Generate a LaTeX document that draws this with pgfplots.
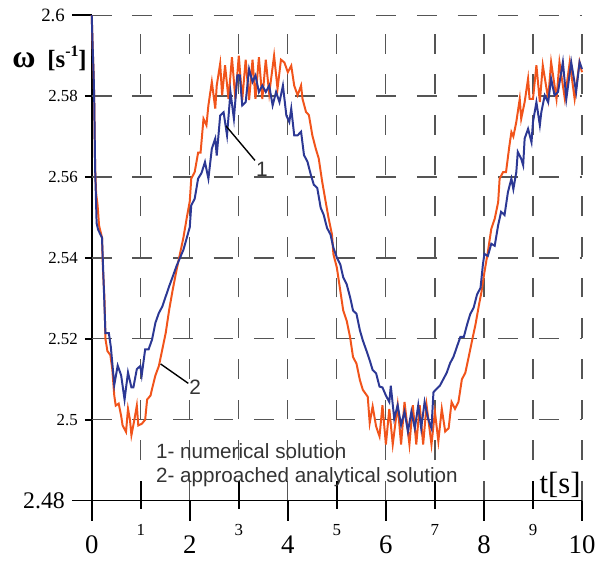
\documentclass[border=0pt]{standalone}
\usepackage{fontspec}
\setmainfont{Liberation Serif}
\setsansfont{Liberation Sans}
\usepackage{pgfplots}
\pgfplotsset{compat=1.18}
\definecolor{cred}{RGB}{241,84,27}
\definecolor{cblue}{RGB}{44,56,148}
\definecolor{cgrid}{RGB}{85,85,85}
\definecolor{ctext}{RGB}{51,51,51}

% series 2: approached analytical solution
\pgfplotstableread{
t w
0 2.600
0.02 2.592
0.04 2.585
0.05 2.580
0.07 2.562
0.09 2.556
0.12 2.553
0.15 2.548
0.19 2.546
0.21 2.545
0.23 2.537
0.26 2.530
0.28 2.520
0.32 2.517
0.38 2.516
0.42 2.5125
0.46 2.506
0.49 2.5035
0.55 2.504
0.60 2.501
0.63 2.4986
0.70 2.497
0.74 2.5027
0.78 2.500
0.81 2.4962
0.87 2.500
0.92 2.5035
0.95 2.4986
1.02 2.499
1.09 2.500
1.13 2.505
1.20 2.506
1.23 2.5076
1.30 2.511
1.37 2.5133
1.44 2.5174
1.51 2.5215
1.58 2.5272
1.65 2.532
1.73 2.537
1.80 2.541
1.87 2.545
1.94 2.550
2.00 2.554
2.03 2.5596
2.10 2.5612
2.17 2.566
2.22 2.566
2.28 2.5744
2.34 2.5728
2.38 2.5777
2.45 2.5835
2.52 2.5769
2.55 2.5826
2.62 2.588
2.66 2.5802
2.72 2.5876
2.79 2.5793
2.86 2.5896
2.93 2.5793
3.00 2.590
3.07 2.579
3.14 2.589
3.21 2.579
3.28 2.589
3.34 2.5793
3.41 2.5896
3.48 2.5793
3.55 2.589
3.62 2.5806
3.72 2.590
3.79 2.5818
3.86 2.589
3.93 2.5883
4.00 2.5859
4.07 2.5875
4.13 2.5826
4.20 2.5802
4.27 2.5826
4.30 2.5793
4.37 2.5761
4.43 2.5753
4.50 2.5703
4.57 2.567
4.63 2.5646
4.70 2.5589
4.77 2.554
4.83 2.5499
4.90 2.5458
4.93 2.5409
5.00 2.5376
5.07 2.5319
5.13 2.527
5.20 2.5245
5.27 2.5204
5.33 2.5155
5.40 2.5139
5.47 2.5098
5.53 2.5074
5.63 2.5057
5.67 2.4992
5.73 2.5033
5.80 2.4984
5.87 2.4959
5.93 2.5036
6.00 2.4939
6.07 2.5027
6.14 2.4939
6.24 2.5036
6.31 2.4939
6.38 2.5044
6.48 2.4939
6.55 2.5036
6.62 2.4939
6.69 2.5036
6.76 2.4939
6.83 2.5036
6.93 2.4939
7.00 2.502
7.07 2.4947
7.14 2.5027
7.21 2.4971
7.28 2.4979
7.34 2.5044
7.41 2.5027
7.48 2.5044
7.55 2.510
7.62 2.5116
7.69 2.5156
7.76 2.5197
7.83 2.5237
7.90 2.5285
7.95 2.5316
8.01 2.5365
8.08 2.5415
8.15 2.5472
8.22 2.5497
8.29 2.5538
8.32 2.5596
8.39 2.5612
8.45 2.5612
8.52 2.5678
8.56 2.5711
8.60 2.570
8.66 2.5736
8.73 2.5793
8.76 2.5744
8.83 2.5785
8.90 2.5843
8.93 2.5793
9.00 2.5793
9.07 2.5876
9.14 2.5785
9.20 2.5876
9.31 2.5793
9.37 2.5884
9.48 2.5793
9.54 2.5884
9.65 2.5793
9.75 2.5884
9.85 2.5793
9.95 2.5884
10.0 2.5859
}\analytic

% series 1: numerical solution
\pgfplotstableread{
t w
0 2.600
0.02 2.592
0.04 2.585
0.05 2.580
0.07 2.562
0.10 2.5486
0.13 2.547
0.17 2.546
0.21 2.545
0.24 2.535
0.28 2.5214
0.35 2.5214
0.39 2.518
0.46 2.5086
0.53 2.5134
0.60 2.511
0.67 2.505
0.74 2.5117
0.81 2.508
0.85 2.508
0.92 2.5125
0.99 2.5133
1.02 2.511
1.09 2.5174
1.16 2.5174
1.23 2.5198
1.30 2.524
1.37 2.5264
1.44 2.528
1.51 2.5305
1.58 2.533
1.65 2.5353
1.73 2.538
1.80 2.540
1.87 2.542
1.94 2.545
2.00 2.5476
2.03 2.553
2.10 2.5546
2.17 2.5596
2.24 2.561
2.31 2.5637
2.38 2.5596
2.45 2.567
2.52 2.5695
2.55 2.5653
2.62 2.5752
2.69 2.576
2.76 2.5703
2.83 2.581
2.90 2.5744
2.97 2.5851
3.02 2.5851
3.07 2.5777
3.14 2.5785
3.21 2.5867
3.28 2.5835
3.34 2.5851
3.41 2.581
3.48 2.5826
3.55 2.581
3.62 2.5826
3.69 2.5777
3.76 2.581
3.83 2.5785
3.90 2.5826
3.97 2.5752
4.03 2.5736
4.07 2.5769
4.13 2.5703
4.20 2.5703
4.27 2.5712
4.33 2.5654
4.40 2.5638
4.47 2.5605
4.53 2.5581
4.60 2.5573
4.67 2.5524
4.73 2.5507
4.80 2.5474
4.87 2.5458
4.93 2.5425
5.00 2.5401
5.07 2.5384
5.13 2.5352
5.20 2.5335
5.27 2.5303
5.33 2.527
5.40 2.5262
5.47 2.5221
5.53 2.5196
5.60 2.5172
5.67 2.5147
5.73 2.5123
5.80 2.5115
5.87 2.5082
5.93 2.508
6.00 2.506
6.07 2.5044
6.10 2.5084
6.17 2.5003
6.24 2.5036
6.31 2.4987
6.38 2.502
6.45 2.4971
6.52 2.502
6.59 2.4979
6.66 2.5036
6.72 2.4979
6.79 2.5044
6.86 2.5003
6.93 2.4979
6.97 2.5068
7.03 2.5076
7.10 2.5084
7.17 2.510
7.24 2.5116
7.31 2.514
7.38 2.5156
7.45 2.5181
7.52 2.5205
7.59 2.5205
7.66 2.5237
7.72 2.5261
7.79 2.5277
7.86 2.531
7.93 2.5326
7.98 2.5385
8.01 2.541
8.08 2.5405
8.15 2.5435
8.22 2.543
8.29 2.5481
8.35 2.5514
8.42 2.5506
8.49 2.5563
8.56 2.5596
8.60 2.557
8.66 2.5612
8.69 2.5662
8.76 2.5645
8.80 2.5629
8.83 2.5695
8.90 2.5719
8.97 2.5686
9.00 2.5736
9.07 2.5785
9.14 2.5728
9.17 2.576
9.24 2.5802
9.31 2.5785
9.37 2.5843
9.44 2.5802
9.51 2.581
9.61 2.5884
9.68 2.5793
9.78 2.5884
9.88 2.581
9.95 2.5884
10.0 2.5867
}\numeric

\begin{document}
\begin{tikzpicture}
\begin{axis}[
    scale only axis,
    width=247.25pt, height=244.85pt,
    xmin=0, xmax=10, ymin=2.48, ymax=2.6,
    axis lines=left,
    axis line style={-, line width=0.8pt, black},
    clip=false,
    grid=major,
    major grid style={line width=0.6pt, cgrid, dash pattern=on 10pt off 10.5pt},
    tick style={line width=0.8pt, black},
    tick align=outside,
    major tick length=10pt,
    xtick={0,2,4,6,8,10},
    xticklabels={0,2,4,6,8,10},
    xticklabel style={font=\fontsize{13.5}{13.5}\selectfont, yshift=-4pt},
    extra x ticks={1,3,5,7,9},
    extra x tick labels={1,3,5,7,9},
    extra x tick style={grid=major, tick align=center, major tick length=14pt,
        tick style={yshift=3pt},
        xticklabel style={font=\fontsize{8.5}{8.5}\selectfont, yshift=2.5pt}},
    ytick={2.48,2.6},
    yticklabels={\fontsize{12}{12}\selectfont 2.48, \fontsize{9.5}{9.5}\selectfont 2.6},
    extra y ticks={2.5,2.52,2.54,2.56,2.58},
    extra y tick labels={2.5,2.52,2.54,2.56,2.58},
    extra y tick style={grid=major, major tick length=3.5pt,
        yticklabel style={font=\fontsize{8.5}{8.5}\selectfont}},
]
\addplot[cred, line width=1pt] table[x=t, y=w] {\analytic};
\addplot[cblue, line width=1pt] table[x=t, y=w] {\numeric};

\draw[black, line width=0.7pt] (axis cs:2.74,2.5726) -- (axis cs:3.33,2.5641);
\node[font=\sffamily\fontsize{10.5}{10.5}\selectfont, text=ctext] at (axis cs:3.47,2.5619) {1};
\draw[black, line width=0.7pt] (axis cs:1.405,2.5138) -- (axis cs:1.97,2.509);
\node[font=\sffamily\fontsize{10.5}{10.5}\selectfont, text=ctext] at (axis cs:2.11,2.5080) {2};

\node[anchor=west, inner sep=0pt, font=\sffamily\fontsize{10.4}{10.4}\selectfont, text=ctext]
    at (axis cs:1.305,2.4923) {1- numerical solution};
\node[anchor=west, inner sep=0pt, font=\sffamily\fontsize{10.4}{10.4}\selectfont, text=ctext]
    at (axis cs:1.305,2.4857) {2- approached analytical solution};

\node[anchor=east, inner sep=0pt, font=\fontsize{15.5}{15.5}\selectfont] at (axis cs:9.98,2.4839) {t[s]};
\node[anchor=west, inner sep=0pt, xshift=-40.25pt] at (axis cs:0,2.5893)
    {\fontsize{16}{16}\selectfont\textbf{ω}\hspace{6pt}\fontsize{12.5}{12.5}\selectfont\textbf{[s\raisebox{0.45em}{\fontsize{8}{8}\selectfont-1}]}};

\coordinate (bl) at (rel axis cs:0,0);
\coordinate (tr) at (rel axis cs:1,1);
\end{axis}
\path ([xshift=-46.25pt,yshift=-25.5pt]bl) rectangle ([xshift=7.5pt,yshift=7.65pt]tr);
\end{tikzpicture}
\end{document}
